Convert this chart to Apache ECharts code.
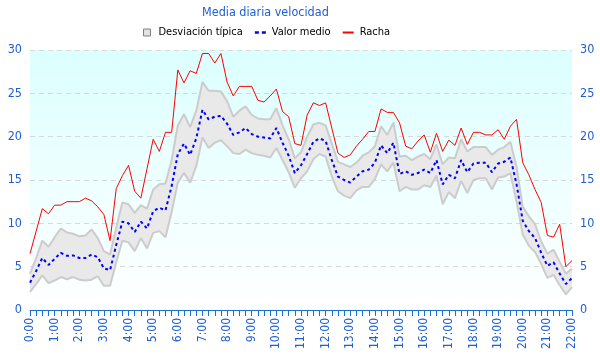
<!DOCTYPE html>
<html><head><meta charset="utf-8">
<script src="https://cdn.jsdelivr.net/npm/echarts@6/dist/echarts.min.js"></script>
<style>html,body{margin:0;padding:0;background:#fff}#c{width:600px;height:360px}</style>
</head><body><div id="c"></div>
<script>
// categories: every 15 minutes from 0:00 to 22:00
var times = [];
for (var h = 0; h <= 22; h++) { for (var m = 0; m < 60; m += 15) { if (h === 22 && m > 0) break; times.push(h + ':' + (m === 0 ? '00' : m)); } }

var racha = [6.5,9.1,11.7,11.1,12.1,12.1,12.5,12.5,12.5,12.9,12.6,11.9,11.0,8.0,14.0,15.5,16.7,13.7,12.9,16.3,19.7,18.3,20.5,20.5,27.7,26.2,27.6,27.3,29.6,29.6,28.5,29.6,26.3,24.7,25.8,25.8,25.8,24.2,24.0,24.7,25.5,22.9,22.3,19.2,19.0,22.5,23.9,23.6,23.9,21.0,18.1,17.6,17.9,18.9,19.7,20.6,20.6,23.2,22.8,22.8,21.6,18.9,18.6,19.5,20.2,18.2,20.4,18.3,19.6,19.0,21.0,19.1,20.5,20.5,20.2,20.2,20.8,19.7,21.2,22.0,17.0,15.6,13.9,12.4,8.6,8.4,9.9,5.0,5.7];

var media = [3.15,4.5,6.0,5.2,5.9,6.6,6.25,6.3,6.0,6.0,6.4,6.1,4.8,4.6,7.5,10.2,10.0,9.0,10.2,9.4,11.4,11.8,11.5,14.3,18.0,19.2,17.9,19.8,23.1,22.0,22.3,22.4,21.5,20.2,20.5,21.0,20.3,20.0,19.9,19.8,21.0,19.3,17.8,15.8,16.7,18.0,19.4,19.8,19.5,17.3,15.4,15.0,14.7,15.4,16.0,16.2,17.0,19.0,18.1,19.3,15.7,16.0,15.6,15.8,16.2,15.8,17.3,14.5,15.6,15.2,17.3,15.9,16.9,17.0,17.0,15.9,16.9,17.1,17.6,14.5,10.3,9.1,8.3,6.6,5.1,5.5,4.2,3.0,3.7];

var desv = [1.05,1.5,2.0,2.1,2.5,2.8,2.7,2.5,2.5,2.6,2.9,2.2,2.0,1.8,2.0,2.2,2.2,2.2,1.9,2.3,2.5,2.7,3.1,3.0,3.3,3.4,3.2,3.2,3.2,3.3,3.0,2.8,2.6,2.1,2.5,2.5,2.2,2.1,2.1,2.2,2.3,2.0,1.9,1.7,1.5,2.0,2.0,1.8,1.8,1.9,1.7,1.8,1.8,1.6,1.8,2.0,1.9,2.2,2.1,2.3,2.0,1.8,1.7,1.9,1.8,1.6,1.8,2.3,2.0,2.3,2.4,2.4,1.9,1.8,1.8,2.0,1.6,1.7,1.8,2.0,1.6,1.7,1.6,1.3,1.4,1.45,1.35,1.2,1.05];

var yTicks = [0,5,10,15,20,25,30];

var lower = media.map(function(v,i){ return +(v - desv[i]).toFixed(2); });
var width = desv.map(function(s){ return +(2*s).toFixed(2); });

var FONT = "'DejaVu Sans Condensed', 'DejaVu Sans', sans-serif";
var blue = '#1e5fd0';
var axisBlue = '#1a6fcf';
var chart = echarts.init(document.getElementById('c'), null, {renderer:'canvas'});
chart.setOption({
  animation: false,
  title: { text: 'Media diaria velocidad', left: 197, top: 1,
    textStyle: { color: blue, fontSize: 12.5, fontWeight: 'normal', fontFamily: FONT } },
  legend: {
    top: 22, left: 136, itemGap: 12, itemWidth: 12, itemHeight: 10,
    textStyle: { color: '#000', fontSize: 11, fontFamily: FONT },
    data: [
      { name: 'Desviación típica', icon: 'path://M0,0M12,10M2,1.5H9V8.5H2Z',
        itemStyle: { color: '#e2e2e2', borderColor: '#808080', borderWidth: 1 } },
      { name: 'Valor medio', icon: 'path://M0,0M12,10M0,3.8H4V6.3H0Z M7,3.8H11V6.3H7Z',
        itemStyle: { color: '#0000ff', borderWidth: 0 } },
      { name: 'Racha', icon: 'path://M0,0M12,10M0,4H11V6H0Z',
        itemStyle: { color: '#ff0000', borderWidth: 0 } }
    ]
  },
  grid: { left: 30, right: 28, top: 50, bottom: 50, show: true, borderWidth: 0,
    backgroundColor: { type: 'linear', x: 0, y: 0, x2: 0, y2: 1,
      colorStops: [{ offset: 0, color: '#dcffff' }, { offset: 1, color: '#ffffff' }] } },
  xAxis: {
    type: 'category', data: times, boundaryGap: false,
    axisLine: { lineStyle: { color: axisBlue, width: 1 } },
    axisTick: { interval: 0, length: 6, lineStyle: { color: axisBlue } },
    axisLabel: { interval: 3, rotate: 90, color: blue, fontSize: 12, fontFamily: FONT, margin: 8 },
    splitLine: { show: false }
  },
  yAxis: [
    { type: 'value', min: yTicks[0], max: yTicks[yTicks.length-1], interval: 5,
      axisLine: { show: false }, axisTick: { show: false },
      axisLabel: { color: blue, fontSize: 12.5, fontFamily: FONT, margin: 8 },
      splitLine: { lineStyle: { color: '#d8d8d8', type: [5,4] } } },
    { type: 'value', min: yTicks[0], max: yTicks[yTicks.length-1], interval: 5, position: 'right',
      axisLine: { show: false }, axisTick: { show: false },
      axisLabel: { color: blue, fontSize: 12.5, fontFamily: FONT, margin: 8 },
      splitLine: { show: false } }
  ],
  series: [
    { name: 'inferior', type: 'line', data: lower, stack: 'band', symbol: 'none',
      lineStyle: { color: '#cccccc', width: 2 }, silent: true, z: 1 },
    { name: 'Desviación típica', type: 'line', data: width, stack: 'band', symbol: 'none',
      itemStyle: { color: '#e2e2e2' },
      lineStyle: { color: '#cccccc', width: 2 }, areaStyle: { color: '#e9e9e9', opacity: 1 }, z: 1 },
    { name: 'Valor medio', type: 'line', data: media, symbol: 'none',
      itemStyle: { color: '#0000ff' },
      lineStyle: { color: '#0000ff', width: 2, type: [3,3] }, z: 3 },
    { name: 'Racha', type: 'line', data: racha, symbol: 'none',
      itemStyle: { color: '#ff0000' },
      lineStyle: { color: '#ff0000', width: 1 }, z: 4 }
  ]
});
</script></body></html>
